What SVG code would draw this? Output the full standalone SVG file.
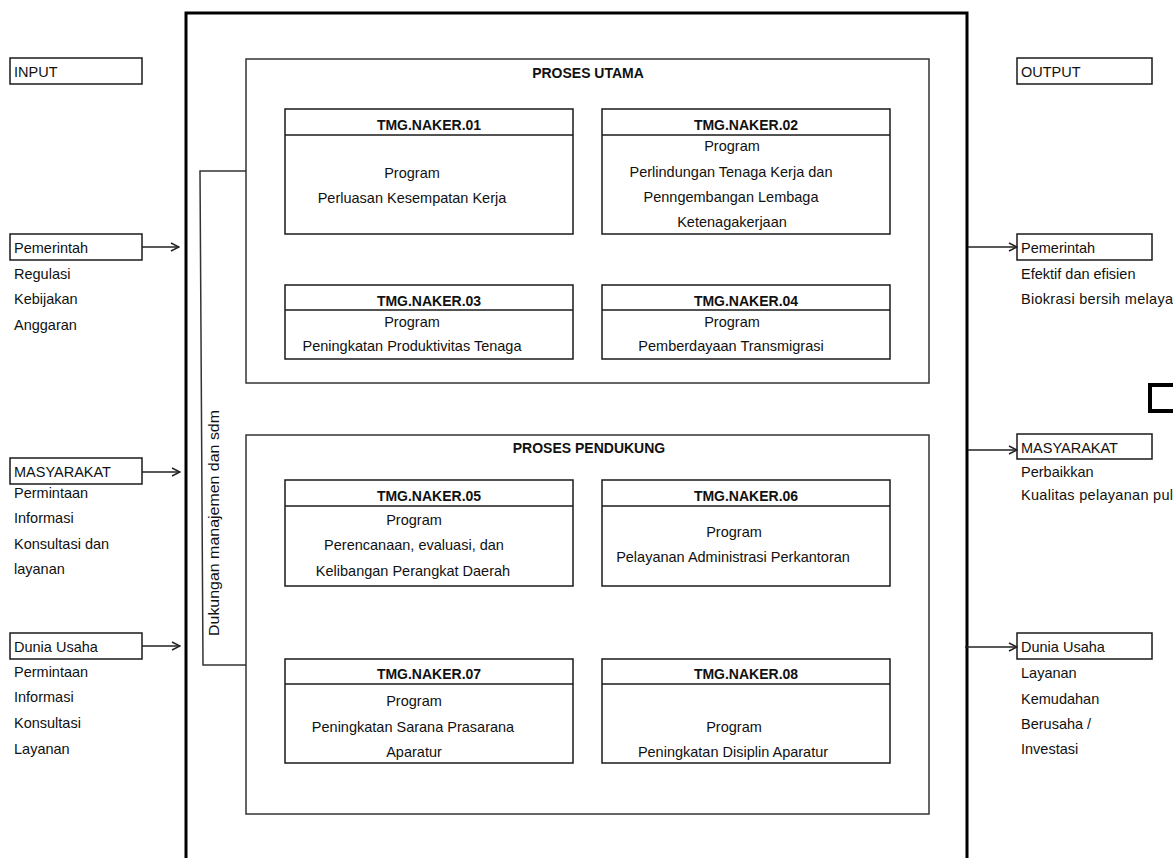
<svg xmlns="http://www.w3.org/2000/svg" width="1173" height="858" viewBox="0 0 1173 858">
<defs>
<style>
.frame{fill:none;stroke:#000;stroke-width:3}
.grp{fill:none;stroke:#333;stroke-width:1.5}
.box{fill:#fff;stroke:#1a1a1a;stroke-width:1.5}
.ln{fill:none;stroke:#1a1a1a;stroke-width:1.5}
.t{font-family:"Liberation Sans",Arial,sans-serif;font-size:14.5px;fill:#111}
.b{font-weight:bold;font-size:14px}
.c{text-anchor:middle}
.conn{fill:none;stroke:#222;stroke-width:1.3;marker-end:url(#arr)}
</style>
<marker id="arr" viewBox="0 0 10 10" refX="9" refY="5" markerWidth="10" markerHeight="10" markerUnits="userSpaceOnUse" orient="auto">
<path d="M1,1 L9,5 L1,9" fill="none" stroke="#222" stroke-width="1.4"/>
</marker>
</defs>
<rect width="1173" height="858" fill="#fff"/>

<g id="frame">
<path class="frame" d="M186,860 L186,13 L967,13 L967,860"/>
</g>

<g id="mark">
<rect x="1150" y="385" width="40" height="26" fill="none" stroke="#000" stroke-width="4"/>
</g>

<g id="proses-utama">
<rect class="grp" x="246" y="59" width="683" height="324"/>
<text class="t b c" x="588" y="78">PROSES UTAMA</text>
</g>

<g id="proses-pendukung">
<rect class="grp" x="246" y="435" width="683" height="379"/>
<text class="t b c" x="589" y="453">PROSES PENDUKUNG</text>
</g>

<g id="dukungan">
<path class="grp" d="M246,171 L200,171 L203,665 L246,665"/>
<text class="t" transform="translate(219,636) rotate(-90)" textLength="226" lengthAdjust="spacingAndGlyphs">Dukungan manajemen dan sdm</text>
</g>

<g id="naker01">
<rect class="box" x="285" y="109" width="288" height="125"/>
<line class="ln" x1="285" y1="135" x2="573" y2="135"/>
<text class="t b c" x="429" y="130">TMG.NAKER.01</text>
<text class="t c" x="412" y="178">Program</text>
<text class="t c" x="412" y="203">Perluasan Kesempatan Kerja</text>
</g>

<g id="naker02">
<rect class="box" x="602" y="109" width="288" height="125"/>
<line class="ln" x1="602" y1="135" x2="890" y2="135"/>
<text class="t b c" x="746" y="130">TMG.NAKER.02</text>
<text class="t c" x="732" y="151">Program</text>
<text class="t c" x="731" y="177">Perlindungan Tenaga Kerja dan</text>
<text class="t c" x="731" y="202">Penngembangan Lembaga</text>
<text class="t c" x="732" y="227">Ketenagakerjaan</text>
</g>

<g id="naker03">
<rect class="box" x="285" y="285" width="288" height="74"/>
<line class="ln" x1="285" y1="310" x2="573" y2="310"/>
<text class="t b c" x="429" y="306">TMG.NAKER.03</text>
<text class="t c" x="412" y="327">Program</text>
<text class="t c" x="412" y="351">Peningkatan Produktivitas Tenaga</text>
</g>

<g id="naker04">
<rect class="box" x="602" y="285" width="288" height="74"/>
<line class="ln" x1="602" y1="310" x2="890" y2="310"/>
<text class="t b c" x="746" y="306">TMG.NAKER.04</text>
<text class="t c" x="732" y="327">Program</text>
<text class="t c" x="731" y="351">Pemberdayaan Transmigrasi</text>
</g>

<g id="naker05">
<rect class="box" x="285" y="480" width="288" height="106"/>
<line class="ln" x1="285" y1="506" x2="573" y2="506"/>
<text class="t b c" x="429" y="501">TMG.NAKER.05</text>
<text class="t c" x="414" y="525">Program</text>
<text class="t c" x="414" y="550">Perencanaan, evaluasi, dan</text>
<text class="t c" x="413" y="576">Kelibangan Perangkat Daerah</text>
</g>

<g id="naker06">
<rect class="box" x="602" y="480" width="288" height="106"/>
<line class="ln" x1="602" y1="506" x2="890" y2="506"/>
<text class="t b c" x="746" y="501">TMG.NAKER.06</text>
<text class="t c" x="734" y="537">Program</text>
<text class="t c" x="733" y="562">Pelayanan Administrasi Perkantoran</text>
</g>

<g id="naker07">
<rect class="box" x="285" y="659" width="288" height="104"/>
<line class="ln" x1="285" y1="684" x2="573" y2="684"/>
<text class="t b c" x="429" y="679">TMG.NAKER.07</text>
<text class="t c" x="414" y="706">Program</text>
<text class="t c" x="413" y="732">Peningkatan Sarana Prasarana</text>
<text class="t c" x="414" y="757">Aparatur</text>
</g>

<g id="naker08">
<rect class="box" x="602" y="659" width="288" height="104"/>
<line class="ln" x1="602" y1="684" x2="890" y2="684"/>
<text class="t b c" x="746" y="679">TMG.NAKER.08</text>
<text class="t c" x="734" y="732">Program</text>
<text class="t c" x="733" y="757">Peningkatan Disiplin Aparatur</text>
</g>

<g id="input">
<rect class="box" x="10" y="58" width="132" height="26"/>
<text class="t" x="14" y="77">INPUT</text>
</g>

<g id="in-pemerintah">
<rect class="box" x="10" y="234" width="132" height="26"/>
<text class="t" x="14" y="253">Pemerintah</text>
<text class="t" x="14" y="279">Regulasi</text>
<text class="t" x="14" y="304">Kebijakan</text>
<text class="t" x="14" y="330">Anggaran</text>
</g>

<g id="in-masyarakat">
<rect class="box" x="10" y="458" width="132" height="26"/>
<text class="t" x="14" y="477">MASYARAKAT</text>
<text class="t" x="14" y="498">Permintaan</text>
<text class="t" x="14" y="523">Informasi</text>
<text class="t" x="14" y="549">Konsultasi dan</text>
<text class="t" x="14" y="574">layanan</text>
</g>

<g id="in-dunia">
<rect class="box" x="10" y="633" width="132" height="26"/>
<text class="t" x="14" y="652">Dunia Usaha</text>
<text class="t" x="14" y="677">Permintaan</text>
<text class="t" x="14" y="702">Informasi</text>
<text class="t" x="14" y="728">Konsultasi</text>
<text class="t" x="14" y="754">Layanan</text>
</g>

<g id="output">
<rect class="box" x="1017" y="58" width="135" height="26"/>
<text class="t" x="1021" y="77">OUTPUT</text>
</g>

<g id="out-pemerintah">
<rect class="box" x="1017" y="234" width="135" height="26"/>
<text class="t" x="1021" y="253">Pemerintah</text>
<text class="t" x="1021" y="279">Efektif dan efisien</text>
<text class="t" x="1021" y="304" textLength="152" lengthAdjust="spacing">Biokrasi bersih melaya</text>
</g>

<g id="out-masyarakat">
<rect class="box" x="1017" y="434" width="135" height="25"/>
<text class="t" x="1021" y="453">MASYARAKAT</text>
<text class="t" x="1021" y="477">Perbaikkan</text>
<text class="t" x="1021" y="500" textLength="152" lengthAdjust="spacing">Kualitas pelayanan pul</text>
</g>

<g id="out-dunia">
<rect class="box" x="1017" y="633" width="135" height="26"/>
<text class="t" x="1021" y="652">Dunia Usaha</text>
<text class="t" x="1021" y="678">Layanan</text>
<text class="t" x="1021" y="704">Kemudahan</text>
<text class="t" x="1021" y="729">Berusaha /</text>
<text class="t" x="1021" y="754">Investasi</text>
</g>

<g id="connectors">
<line class="conn" x1="142" y1="247" x2="179" y2="247"/>
<line class="conn" x1="142" y1="472" x2="180" y2="472"/>
<line class="conn" x1="142" y1="646" x2="180" y2="646"/>
<line class="conn" x1="968" y1="247" x2="1017" y2="247"/>
<line class="conn" x1="968" y1="450" x2="1017" y2="450"/>
<line class="conn" x1="965" y1="647" x2="1017" y2="647"/>
</g>
</svg>
